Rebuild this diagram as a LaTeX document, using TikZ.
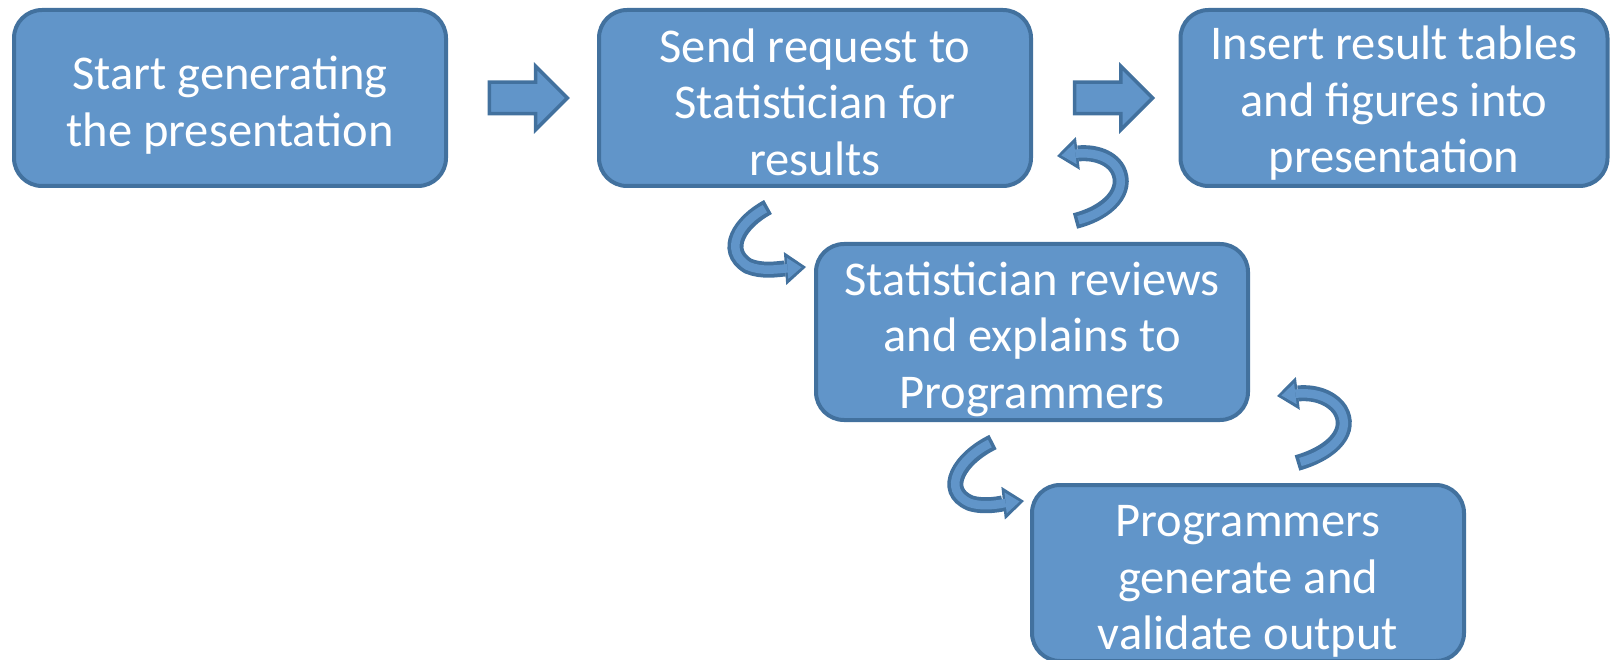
\documentclass[tikz,border=0pt]{standalone}
\usepackage{fontspec}
\setmainfont{Carlito}
\usetikzlibrary{arrows.meta,shapes.arrows,calc}
\definecolor{boxfill}{RGB}{97,149,201}
\definecolor{boxline}{RGB}{66,113,158}
\newcommand\topgap[1][48pt]{\rule{0pt}{#1}}
\tikzset{
  procbox/.style={rectangle, rounded corners=28pt, draw=boxline, fill=boxfill,
    line width=4pt, minimum width=432pt, minimum height=176pt, inner sep=0pt,
    text=white, align=center, font=\fontsize{48.5}{56.5}\selectfont},
  blockarrow/.style={single arrow, draw=boxline, fill=boxfill, line width=3.5pt,
    minimum height=78pt, inner xsep=0pt, inner ysep=14pt, single arrow head extend=16pt,
    single arrow tip angle=90},
  curveout/.style={line width=16pt, draw=boxline,
    -{Triangle[length=21pt,width=33pt,line width=0pt]}},
  curvein/.style={line width=8.5pt, draw=boxfill, shorten <=3.5pt, shorten >=4.5pt,
    -{Triangle[length=14pt,width=21pt,line width=0pt]}}
}
\newcommand\myribbon[1]{\draw[curveout] #1; \draw[curvein] #1;}
\begin{document}
\begin{tikzpicture}[x=1pt,y=-1pt]
\useasboundingbox (0,0) rectangle (1610,660);
\node[procbox] (b1) at (230,98) {\topgap Start generating\\the presentation};
\node[procbox] (b2) at (815,98) {\topgap[42pt]Send request to\\Statistician for\\results};
\node[procbox, minimum width=427pt] (b3) at (1394,98) {\topgap[44pt]Insert result tables\\and figures into\\presentation};
\node[procbox] (b4) at (1032,332) {\topgap Statistician reviews\\and explains to\\Programmers};
\node[procbox] (b5) at (1248,573) {\topgap Programmers\\generate and\\validate output};
\node[blockarrow] (r1) at ($(b1.east)!0.5!(b2.west)+(-2,0)$) {};
\node[blockarrow] (r2) at ($(b2.east)!0.5!(b3.west)$) {};
% curved arrows
\coordinate (a1s) at (768,207);
\coordinate (a1e) at (806,267);
\coordinate (a2s) at (1075,221);
\coordinate (a2e) at (1057,156);
\coordinate (a3s) at (993,442);
\coordinate (a3e) at (1024,501);
\coordinate (a4s) at (1297,463);
\coordinate (a4e) at (1277,396);
\myribbon{(a1s) .. controls (740,222) and (722,250) .. (748,266) .. controls (762,272) and (778,269) .. (a1e)}
\myribbon{(a2s) .. controls (1110,212) and (1128,190) .. (1118,170) .. controls (1110,155) and (1090,152) .. (a2e)}
\myribbon{(a3s) .. controls (960,458) and (940,490) .. (970,503) .. controls (985,508) and (1005,503) .. (a3e)}
\myribbon{(a4s) .. controls (1335,452) and (1352,430) .. (1340,410) .. controls (1330,395) and (1310,392) .. (a4e)}
\end{tikzpicture}
\end{document}
